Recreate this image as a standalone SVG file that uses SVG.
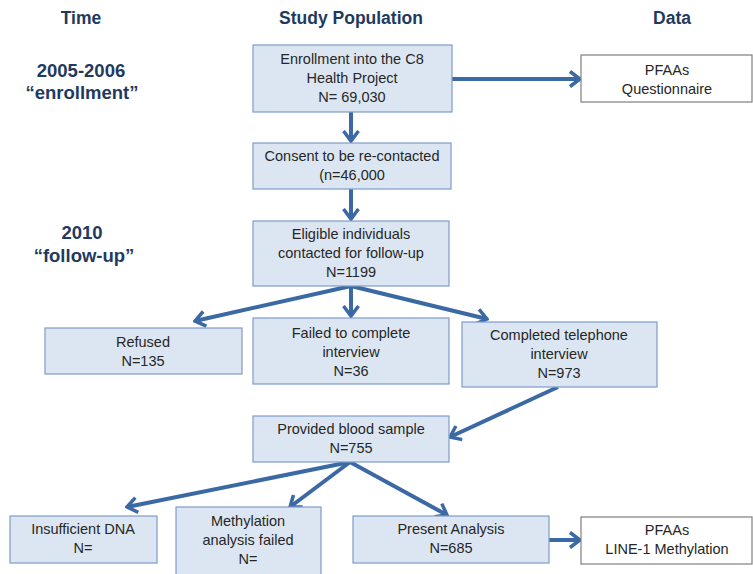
<svg xmlns="http://www.w3.org/2000/svg" width="753" height="574" viewBox="0 0 753 574">
<style>
.hdr{font-family:"Liberation Sans",Arial,sans-serif;font-weight:bold;font-size:17.5px;fill:#1F3A5F;text-anchor:middle}
.tl{font-family:"Liberation Sans",Arial,sans-serif;font-weight:bold;font-size:18.5px;fill:#1F3A5F;text-anchor:middle}
.box{fill:#DCE6F2;stroke:#7E9CC8;stroke-width:1.2}
.dbox{fill:#FFFFFF;stroke:#7F7F7F;stroke-width:1.2}
.t{font-family:"Liberation Sans",Arial,sans-serif;font-size:14.5px;fill:#262626;text-anchor:middle}
.arr{stroke:#3B69A3;stroke-width:4;fill:none;marker-end:url(#ah)}
</style>
<defs>
<marker id="ah" viewBox="0 0 14 18" refX="11.5" refY="9" markerWidth="14" markerHeight="18" markerUnits="userSpaceOnUse" orient="auto">
<path d="M1.5,1.5 L11.5,9 L1.5,16.5" fill="none" stroke="#3B69A3" stroke-width="3.5" stroke-linejoin="miter"/>
</marker>
</defs>
<rect width="753" height="574" fill="#FFFFFF"/>
<g id="headers">
<text class="hdr" x="81" y="24">Time</text>
<text class="hdr" x="351" y="24">Study Population</text>
<text class="hdr" x="672" y="24">Data</text>
</g>
<g id="time-labels">
<text class="tl" x="81" y="77">2005-2006</text>
<text class="tl" x="82" y="99">“enrollment”</text>
<text class="tl" x="82" y="239">2010</text>
<text class="tl" x="84" y="262">“follow-up”</text>
</g>
<g id="connectors">
<line class="arr" x1="452" y1="79" x2="580" y2="79"/>
<line class="arr" x1="351" y1="112" x2="351" y2="141"/>
<line class="arr" x1="351" y1="189" x2="351" y2="219"/>
<line class="arr" x1="351" y1="286" x2="195" y2="321"/>
<line class="arr" x1="351" y1="286" x2="351" y2="316"/>
<line class="arr" x1="351" y1="286" x2="487" y2="319"/>
<line class="arr" x1="558" y1="387" x2="450" y2="437"/>
<line class="arr" x1="350" y1="462" x2="127" y2="507"/>
<line class="arr" x1="350" y1="462" x2="290" y2="507"/>
<line class="arr" x1="350" y1="462" x2="447" y2="515"/>
<line class="arr" x1="549" y1="540" x2="580" y2="540"/>
</g>
<g id="enrollment">
<rect class="box" x="253" y="45" width="199" height="67"/>
<text class="t" x="352" y="64">Enrollment into the C8</text>
<text class="t" x="352" y="83">Health Project</text>
<text class="t" x="352" y="102">N= 69,030</text>
</g>
<g id="data1">
<rect class="dbox" x="581" y="55" width="171" height="47"/>
<text class="t" x="667" y="75">PFAAs</text>
<text class="t" x="667" y="94">Questionnaire</text>
</g>
<g id="consent">
<rect class="box" x="253" y="143" width="198" height="46"/>
<text class="t" x="352" y="161">Consent to be re-contacted</text>
<text class="t" x="352" y="180">(n=46,000</text>
</g>
<g id="eligible">
<rect class="box" x="253" y="221" width="196" height="65"/>
<text class="t" x="351" y="239">Eligible individuals</text>
<text class="t" x="351" y="258">contacted for follow-up</text>
<text class="t" x="351" y="277">N=1199</text>
</g>
<g id="refused">
<rect class="box" x="45" y="328" width="197" height="46"/>
<text class="t" x="143" y="347">Refused</text>
<text class="t" x="143" y="366">N=135</text>
</g>
<g id="failed">
<rect class="box" x="253" y="318" width="196" height="66"/>
<text class="t" x="351" y="338">Failed to complete</text>
<text class="t" x="351" y="357">interview</text>
<text class="t" x="351" y="376">N=36</text>
</g>
<g id="completed">
<rect class="box" x="462" y="322" width="195" height="65"/>
<text class="t" x="559" y="340">Completed telephone</text>
<text class="t" x="559" y="359">interview</text>
<text class="t" x="559" y="378">N=973</text>
</g>
<g id="provided">
<rect class="box" x="253" y="416" width="196" height="46"/>
<text class="t" x="351" y="434">Provided blood sample</text>
<text class="t" x="351" y="453">N=755</text>
</g>
<g id="insufficient">
<rect class="box" x="10" y="516" width="147" height="47"/>
<text class="t" x="83" y="534">Insufficient DNA</text>
<text class="t" x="83" y="553">N=</text>
</g>
<g id="methylation">
<rect class="box" x="176" y="507" width="145" height="68"/>
<text class="t" x="248" y="526">Methylation</text>
<text class="t" x="248" y="545">analysis failed</text>
<text class="t" x="248" y="564">N=</text>
</g>
<g id="present">
<rect class="box" x="353" y="516" width="196" height="47"/>
<text class="t" x="451" y="534">Present Analysis</text>
<text class="t" x="451" y="553">N=685</text>
</g>
<g id="data2">
<rect class="dbox" x="581" y="517" width="171" height="47"/>
<text class="t" x="667" y="535">PFAAs</text>
<text class="t" x="667" y="554">LINE-1 Methylation</text>
</g>
</svg>
